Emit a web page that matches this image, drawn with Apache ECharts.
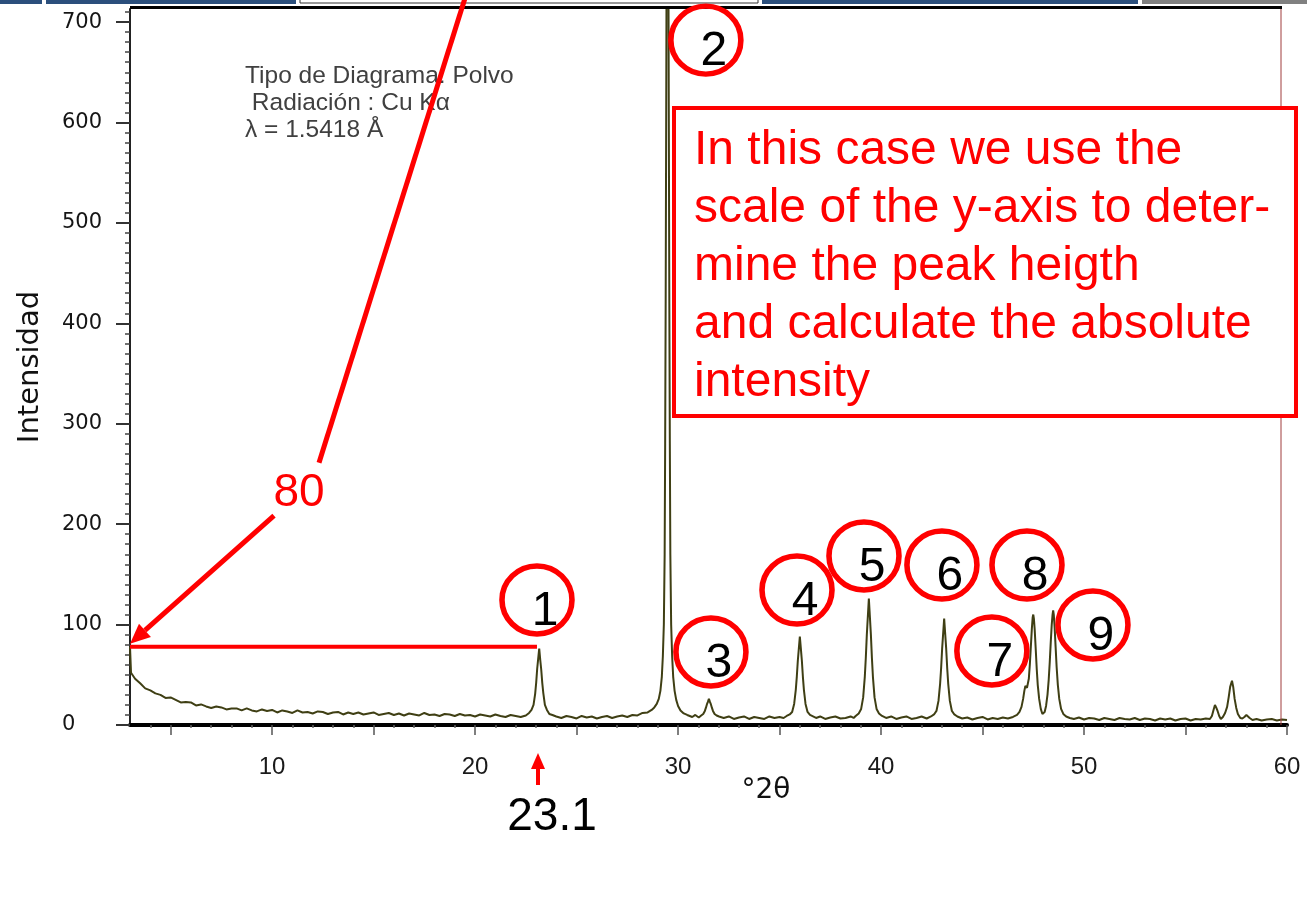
<!DOCTYPE html>
<html>
<head>
<meta charset="utf-8">
<script src="https://cdn.jsdelivr.net/npm/echarts@6/dist/echarts.min.js"></script>
<style>
html,body{margin:0;padding:0;background:#fff;}
#chart{width:1307px;height:900px;}
</style>
</head>
<body>
<div id="chart"></div>
<script>
// ---- measured diffraction scan: [2theta (deg), intensity (counts)] ----
const scanLowAngle = [
 [3.0,78],[3.05,52],[3.25,46],[3.5,41.5],[3.75,36.5],[4.0,34.5],[4.25,31.5],[4.5,30],[4.75,27],
 [5.0,27.5],[5.25,25],[5.5,22.5],[5.75,23],[6.0,22.5],[6.25,19.5],[6.5,20.5],[6.75,18.5],[7.0,17],
 [7.25,18.5],[7.5,17.5],[7.75,15.5],[8.0,16.5],[8.25,16.5],[8.5,14.5],[8.75,16.5],[9.0,14.5],
 [9.25,13.5],[9.5,15.5],[9.75,14],[10.0,15],[10.25,12.5],[10.5,14.5],[10.75,13.5],[11.0,12],
 [11.25,14.5],[11.5,12.5],[11.75,13],[12.0,11.5],[12.25,13.5],[12.5,13],[12.75,11],[13.0,12.5],
 [13.25,13],[13.5,10.5],[13.75,12.5],[14.0,11],[14.25,12.5],[14.5,10.5],[14.75,11.5],[15.0,12.5],
 [15.25,10],[15.5,11],[15.75,12],[16.0,10],[16.25,11.5],[16.5,9.5],[16.75,11.5],[17.0,10.5],
 [17.25,9.5],[17.5,12],[17.75,10],[18.0,10.5],[18.25,9],[18.5,11],[18.75,10.5],[19.0,9],
 [19.25,11],[19.5,9.5],[19.75,10],[20.0,8.5],[20.25,10.5],[20.5,9.5],[20.75,8.5],[21.0,10.5],
 [21.25,9],[21.5,8],[21.75,10],[22.0,9],[22.25,8],[22.5,9.5]
];
const scanPeaks1to3 = [
 [22.51,10],[22.66,12],[22.78,15],[22.88,20],[22.96,31],[23.01,42],[23.06,56],[23.11,66],
 [23.16,76],[23.21,65],[23.26,55],[23.31,42],[23.36,32],[23.44,20],[23.54,15],[23.66,11],
 [23.81,10],[24.0,8.5],[24.25,7],[24.5,9],[24.75,8],[25.0,6.5],[25.25,9],[25.5,7.5],
 [25.75,8.5],[26.0,6.5],[26.25,8],[26.5,9],[26.75,7],[27.0,8.5],[27.25,9.5],[27.5,8],
 [27.75,10],[28.0,9.5],[28.25,12],[28.5,12.5],[28.7,15],[28.83,17.5],[28.95,21],[29.05,26],
 [29.13,34],[29.2,48],[29.25,68],[29.3,100],[29.34,170],[29.365,280],[29.39,420],[29.42,640],
 [29.45,880],[29.48,1000],[29.51,880],[29.54,640],[29.57,420],[29.595,280],[29.62,170],
 [29.66,100],[29.71,68],[29.76,48],[29.83,34],[29.91,25],[30.0,19],[30.12,14.5],[30.28,11.5],
 [30.45,10],[30.7,8],[30.85,10],[31.02,7.5],[31.14,9.5],[31.24,11],[31.32,14],[31.37,17],
 [31.42,20.5],[31.47,23],[31.52,26],[31.57,23],[31.62,20.5],[31.67,17],[31.72,14],[31.8,11],
 [31.9,9.5],[32.02,8.5],[32.25,7],[32.5,8.5],[32.75,6],[33.0,7.5],[33.25,8.5],[33.5,6],
 [33.75,8],[34.0,7],[34.25,6],[34.5,8.5],[34.75,7],[35.0,8],[35.2,7]
];
const scanPeaks4to6 = [
 [35.35,9],[35.5,10.5],[35.62,13],[35.72,21],[35.8,35],[35.85,48],[35.9,64],[35.95,76],
 [36.0,88],[36.05,76],[36.1,64],[36.15,48],[36.2,35],[36.28,21],[36.38,13],[36.5,10],
 [36.65,8.5],[36.8,7],[37.0,8.5],[37.25,6],[37.5,7.5],[37.75,8.5],[38.0,6.5],[38.25,7],
 [38.5,8.5],[38.65,7],[38.75,9],[38.9,11.5],[39.02,16],[39.12,27.5],[39.2,48],[39.25,67],
 [39.3,90],[39.35,108],[39.4,126],[39.45,108],[39.5,90],[39.55,67],[39.6,48],[39.68,27.5],
 [39.78,16],[39.9,11.5],[40.05,9],[40.25,7],[40.5,8.5],[40.75,6],[41.0,7.5],[41.25,8.5],
 [41.5,6],[41.75,7],[42.0,8.5],[42.25,6.5],[42.46,8.5],[42.61,10.5],[42.73,14],[42.83,24],
 [42.91,41],[42.96,56.5],[43.01,76],[43.06,91],[43.11,106],[43.16,91],[43.21,76],[43.26,56.5],
 [43.31,41],[43.39,24],[43.49,14],[43.61,10.5],[43.76,8.5],[44.0,6.5],[44.25,7.5],[44.5,5.5],
 [44.75,7],[45.0,8],[45.25,5.5],[45.5,7],[45.75,6],[46.0,7.5],[46.25,6.5],[46.5,8]
];
const scanPeaks7to9 = [
 [46.7,10],[46.82,13],[46.92,18],[47.0,26],[47.06,34],[47.11,39],[47.15,40],[47.19,37],
 [47.23,38],[47.28,46],[47.33,60],[47.38,78],[47.43,96],[47.47,107],[47.5,110],[47.53,106],
 [47.57,95],[47.62,76],[47.67,56],[47.72,40],[47.79,26],[47.87,16],[47.95,11],[48.0,10.5],
 [48.06,13],[48.13,19],[48.2,30],[48.26,45],[48.31,62],[48.36,82],[48.41,100],[48.45,110],
 [48.48,114],[48.51,110],[48.55,98],[48.6,78],[48.65,58],[48.71,40],[48.78,26],[48.87,16],
 [48.98,11],[49.12,8.5],[49.3,7],[49.5,6],[49.75,7.5],[50.0,5.5],[50.25,7],[50.5,6.5],
 [50.75,5],[51.0,7],[51.25,6],[51.5,5],[51.75,7],[52.0,6],[52.25,5.5],[52.5,7],
 [52.75,5],[53.0,6.5],[53.25,6],[53.5,4.5],[53.75,6.5],[54.0,5.5],[54.25,6.5],[54.5,4.5],
 [54.75,6],[55.0,6.5],[55.25,4.5],[55.5,6],[55.75,5.5],[56.0,6.5],[56.2,6]
];
const scanHighAngle = [
 [56.3,9],[56.38,15],[56.45,20],[56.52,17],[56.58,14],[56.66,9],[56.74,6],[56.84,8],
 [56.95,12],[57.05,18],[57.13,28],[57.2,38],[57.29,44],[57.35,38],[57.42,26],[57.5,17],
 [57.58,11],[57.7,7],[57.8,6.5],[57.9,8],[58.0,10],[58.08,9],[58.16,7],[58.3,5],
 [58.5,6],[58.75,4.5],[59.0,5.5],[59.25,6],[59.5,4.5],[59.75,5.5],[60.0,5]
];

// ---- axis ticks / labels ----
const xLabelValues = [10, 20, 30, 40, 50, 60];
const xMajorTickValues = [5, 10, 15, 20, 25, 30, 35, 40, 45, 50, 55, 60];
const yLabelValues = [0, 100, 200, 300, 400, 500, 600, 700];

// ---- peak annotations (numbered circles) ----
const circleLabels = ['1', '2', '3', '4', '5', '6', '7', '8', '9'];
const circleTheta  = [23.05, 31.37, 31.62, 35.86, 39.16, 43.0, 45.46, 47.19, 50.44];
const circleInt    = [124.5, 682, 72.7, 134.4, 168.3, 159.3, 73.7, 159.3, 99.6];

// ---- reading of peak 1 ----
const peak1Theta = 23.1;      // position read on the 2theta axis
const peak1Label = '23.1';
const peak1Height = 78;       // level of the read-off line
const peak1HeightLabel = '80';

const infoLines = ['Tipo de Diagrama: Polvo', ' Radiación : Cu Kα', 'λ = 1.5418 Å'];
const noteLines = ['In this case we use the', 'scale of the y-axis to deter-', 'mine the peak heigth', 'and calculate the absolute', 'intensity'];

const scan = [].concat(scanLowAngle, scanPeaks1to3, scanPeaks4to6, scanPeaks7to9, scanHighAngle);

const xMinorTickValues = [];
for (let v = 4; v < 60; v++) if (v % 5 !== 0) xMinorTickValues.push(v);
const yMinorTickValues = [];
for (let v = 10; v <= 710; v += 10) if (v % 100 !== 0) yMinorTickValues.push(v);

const RED = '#ff0000';
const chart = echarts.init(document.getElementById('chart'));

const xBase = {type: 'value', min: 3, max: 60, gridIndex: 0, position: 'bottom', splitLine: {show: false}};
const option = {
  backgroundColor: '#ffffff',
  animation: false,
  grid: {left: 130, right: 20, top: 9, bottom: 175, containLabel: false, outerBoundsMode: 'none'},
  xAxis: [
    Object.assign({}, xBase, {
      axisLine: {show: true, onZero: false, lineStyle: {color: '#000', width: 4}},
      axisTick: {show: false}, axisLabel: {show: false}
    }),
    Object.assign({}, xBase, {
      offset: 9,
      axisLine: {show: false},
      axisTick: {show: true, customValues: xMajorTickValues, length: 10, lineStyle: {color: '#555', width: 1.5}},
      axisLabel: {show: true, customValues: xLabelValues, margin: 21, fontSize: 24,
        fontFamily: 'Liberation Sans', color: '#1a1a1a'}
    }),
    Object.assign({}, xBase, {
      offset: 9,
      axisLine: {show: false},
      axisTick: {show: true, customValues: xMinorTickValues, length: 3, lineStyle: {color: '#666', width: 1.5}},
      axisLabel: {show: false}
    })
  ],
  yAxis: [
    {type: 'value', min: 0, max: 713, position: 'left',
      name: 'Intensidad', nameLocation: 'middle', nameGap: 85,
      nameTextStyle: {fontSize: 29, fontFamily: 'DejaVu Sans', color: '#111'},
      axisLine: {show: true, onZero: false, lineStyle: {color: '#222', width: 2}},
      axisTick: {show: true, customValues: yLabelValues, length: 14, lineStyle: {color: '#333', width: 2}},
      axisLabel: {show: true, customValues: yLabelValues, margin: 68, align: 'left', fontSize: 21,
        fontFamily: 'DejaVu Sans', color: '#151515'},
      splitLine: {show: false}},
    {type: 'value', min: 0, max: 713, position: 'left',
      axisLine: {show: false},
      axisTick: {show: true, customValues: yMinorTickValues, length: 5, lineStyle: {color: '#444', width: 1.5}},
      axisLabel: {show: false}, splitLine: {show: false}}
  ],
  series: [
    {type: 'line', name: 'scan', data: scan, xAxisIndex: 0, yAxisIndex: 0,
      showSymbol: false, symbol: 'none', clip: true, z: 3,
      lineStyle: {color: '#3f3f14', width: 2}},
    {type: 'scatter', name: 'peaks', xAxisIndex: 0, yAxisIndex: 0, z: 6, clip: false,
      data: circleLabels.map((t, i) => ({value: [circleTheta[i], circleInt[i]], name: t})),
      symbol: 'circle', symbolSize: [70, 68],
      itemStyle: {color: 'rgba(0,0,0,0)', borderColor: RED, borderWidth: 5.5, opacity: 1},
      label: {show: true, position: 'inside', formatter: '{b}', offset: [8, 12],
        fontSize: 48, fontFamily: 'Liberation Sans', color: '#000', opacity: 1, textBorderWidth: 0}}
  ]
};
chart.setOption(option);

const px = (x, y) => chart.convertToPixel({xAxisIndex: 0, yAxisIndex: 0}, [x, y]);

function arrow(tail, tip, width, headLen, headHalf) {
  const dx = tip[0] - tail[0], dy = tip[1] - tail[1];
  const L = Math.hypot(dx, dy), ux = dx / L, uy = dy / L;
  const bx = tip[0] - ux * headLen, by = tip[1] - uy * headLen;
  const nx = -uy, ny = ux;
  return [
    {type: 'line', z: 20, shape: {x1: tail[0], y1: tail[1], x2: bx, y2: by},
      style: {stroke: RED, lineWidth: width}},
    {type: 'polygon', z: 20, shape: {points: [tip, [bx + nx * headHalf, by + ny * headHalf], [bx - nx * headHalf, by - ny * headHalf]]},
      style: {fill: RED}}
  ];
}

const lineStart = px(3, peak1Height);
const lineEnd = px(23.05, peak1Height);
const tip80 = px(3, 81);
const axisPt = px(peak1Theta, 0);

const g = [];
// top window bars
g.push({type: 'rect', shape: {x: 0, y: 0, width: 42, height: 4}, style: {fill: '#2b4f7c'}});
g.push({type: 'rect', shape: {x: 46, y: 0, width: 250, height: 4}, style: {fill: '#2b4f7c'}});
g.push({type: 'rect', shape: {x: 300, y: -1, width: 458, height: 4}, style: {fill: '#fff', stroke: '#333', lineWidth: 1}});
g.push({type: 'rect', shape: {x: 762, y: 0, width: 376, height: 4}, style: {fill: '#2b4f7c'}});
g.push({type: 'rect', shape: {x: 1142, y: 0, width: 165, height: 4}, style: {fill: '#808080'}});
// plot frame top and right
const tl = px(3, 713), br = px(60, 0);
g.push({type: 'line', z: 5, shape: {x1: tl[0], y1: 7.5, x2: br[0] - 5, y2: 7.5}, style: {stroke: '#000', lineWidth: 3}});
g.push({type: 'line', z: 5, shape: {x1: br[0] - 6, y1: 9, x2: br[0] - 6, y2: br[1]}, style: {stroke: '#a03c3c', lineWidth: 1}});
// info text
g.push({type: 'text', z: 10, x: 245, y: 63, style: {text: infoLines.join('\n'), font: '24.5px "Liberation Sans"', fill: '#404040', lineHeight: 27}});
// note box
g.push({type: 'rect', z: 10, shape: {x: 674, y: 108, width: 622, height: 308}, style: {fill: '#fff', stroke: RED, lineWidth: 4}});
g.push({type: 'text', z: 11, x: 694, y: 122, style: {text: noteLines.join('\n'), font: '48px "Liberation Sans"', fill: RED, lineHeight: 58}});
// horizontal read-off line at peak 1 height
g.push({type: 'line', z: 20, shape: {x1: lineStart[0], y1: lineStart[1], x2: lineEnd[0], y2: lineEnd[1]}, style: {stroke: RED, lineWidth: 4}});
// diagonal arrow to the y axis + label 80
arrow([tip80[0] + 144, tip80[1] - 128], tip80, 5, 20, 9).forEach(e => g.push(e));
g.push({type: 'text', z: 20, x: tip80[0] + 169, y: tip80[1] - 150, style: {text: peak1HeightLabel, font: '46px "Liberation Sans"', fill: RED, align: 'center', verticalAlign: 'middle'}});
// long red line towards top
g.push({type: 'line', z: 20, shape: {x1: tip80[0] + 189, y1: tip80[1] - 181, x2: tip80[0] + 336, y2: -5}, style: {stroke: RED, lineWidth: 5}});
// vertical arrow under the x axis at 23.1
arrow([axisPt[0], axisPt[1] + 60], [axisPt[0], axisPt[1] + 28], 4, 16, 7).forEach(e => g.push(e));
g.push({type: 'text', z: 20, x: axisPt[0] + 14, y: axisPt[1] + 92, style: {text: peak1Label, font: '46px "Liberation Sans"', fill: '#000', align: 'center', verticalAlign: 'middle'}});
// x axis name
g.push({type: 'text', z: 10, x: px(34.33, 0)[0], y: axisPt[1] + 66, style: {text: '°2θ', font: '28px "DejaVu Sans"', fill: '#111', align: 'center', verticalAlign: 'middle'}});

chart.setOption({graphic: g});
</script>
</body>
</html>
